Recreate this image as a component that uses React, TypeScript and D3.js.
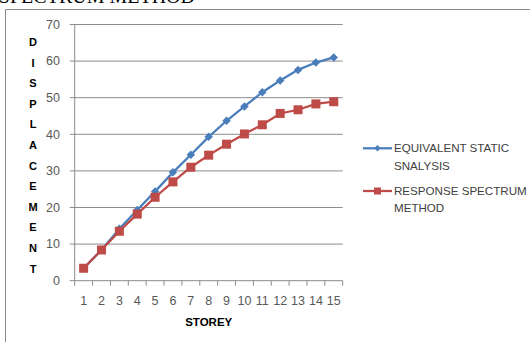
import React from "react";
import * as d3 from "d3";

const storeys = ["1","2","3","4","5","6","7","8","9","10","11","12","13","14","15"];
const equivalentStatic = [3.4, 8.4, 14.2, 19.3, 24.4, 29.6, 34.4, 39.3, 43.7, 47.6, 51.5, 54.7, 57.6, 59.6, 61.0];
const responseSpectrum = [3.4, 8.4, 13.5, 18.2, 22.8, 27.0, 31.0, 34.3, 37.3, 40.1, 42.6, 45.7, 46.7, 48.3, 48.9];
const yTicks = [0, 10, 20, 30, 40, 50, 60, 70];
const yTitle = "DISPLACEMENT".split("");

const W = 530, H = 342;
const plot = { left: 74.7, right: 342.7, top: 24.5, bottom: 280.7 };
const BLUE = "#4a7ebb";
const RED = "#be4b48";
const GRID = "#8c8c8c";
const FONT = "'Liberation Sans', Arial, sans-serif";

export default function App() {
  const x = d3.scaleBand<string>().domain(storeys).range([plot.left, plot.right]);
  const y = d3.scaleLinear().domain([0, 70]).range([plot.bottom, plot.top]);
  const cx = (s: string) => (x(s) ?? 0) + x.bandwidth() / 2;
  const line = d3.line<number>().x((_, i) => cx(storeys[i])).y(d => y(d));
  const diamond = d3.symbol().type(d3.symbolDiamond2).size(46)();
  const boundaries = storeys.map(s => x(s) ?? 0).concat([plot.right]);

  return (
    <svg width={W} height={H} style={{ position: "absolute", left: 0, top: 0, background: "#fff" }}>
      <text x={195} y={3} textAnchor="end" fontFamily="'Liberation Serif', 'Times New Roman', serif" fontSize={20} fill="#000">
        SPECTRUM METHOD
      </text>
      {/* chart frame */}
      <path d={`M5.5,${H} V9.5 H${W}`} fill="none" stroke="#8a8a8a" strokeWidth={1} />

      {/* gridlines and y ticks */}
      {yTicks.map(t => (
        <g key={t}>
          {t > 0 && <line x1={plot.left} x2={plot.right} y1={y(t)} y2={y(t)} stroke={GRID} strokeWidth={1} />}
          <line x1={plot.left - 5} x2={plot.left} y1={y(t)} y2={y(t)} stroke={GRID} />
          <text x={60} y={y(t)} dy="0.35em" textAnchor="end" fontFamily={FONT} fontSize={12.5} fill="#595959">{t}</text>
        </g>
      ))}
      <line x1={plot.left} x2={plot.left} y1={plot.top} y2={plot.bottom} stroke={GRID} />
      <line x1={plot.left} x2={plot.right} y1={plot.bottom} y2={plot.bottom} stroke={GRID} />
      {boundaries.map((b, i) => (
        <line key={i} x1={b} x2={b} y1={plot.bottom} y2={plot.bottom + 5} stroke={GRID} />
      ))}
      {storeys.map(s => (
        <text key={s} x={cx(s)} y={304.5} textAnchor="middle" fontFamily={FONT} fontSize={12.5} fill="#595959">{s}</text>
      ))}

      {/* axis titles */}
      {yTitle.map((c, i) => (
        <text key={i} x={33} y={46 + i * 20.6} textAnchor="middle" fontFamily={FONT} fontWeight="bold" fontSize={11} fill="#000">{c}</text>
      ))}
      <text x={(plot.left + plot.right) / 2} y={326} textAnchor="middle" fontFamily={FONT} fontWeight="bold" fontSize={11.5} fill="#000">STOREY</text>

      {/* series */}
      <path d={line(equivalentStatic) ?? ""} fill="none" stroke={BLUE} strokeWidth={2.25} />
      {equivalentStatic.map((v, i) => (
        <path key={i} d={diamond ?? ""} transform={`translate(${cx(storeys[i])},${y(v)})`} fill={BLUE} />
      ))}
      <path d={line(responseSpectrum) ?? ""} fill="none" stroke={RED} strokeWidth={2.25} />
      {responseSpectrum.map((v, i) => (
        <rect key={i} x={cx(storeys[i]) - 4.5} y={y(v) - 4.5} width={9} height={9} fill={RED} />
      ))}

      {/* legend */}
      <g fontFamily={FONT} fontSize={11.6} fill="#404040">
        <line x1={363} x2={392} y1={148.3} y2={148.3} stroke={BLUE} strokeWidth={2.25} />
        <path d={d3.symbol().type(d3.symbolDiamond2).size(26)() ?? ""} transform="translate(377.5,148.3)" fill={BLUE} />
        <text x={394} y={148.3} dy="0.35em">EQUIVALENT STATIC</text>
        <text x={394} y={165.5} dy="0.35em">SNALYSIS</text>
        <line x1={363} x2={392} y1={191} y2={191} stroke={RED} strokeWidth={2.25} />
        <rect x={374} y={187.5} width={7} height={7} fill={RED} />
        <text x={394} y={191} dy="0.35em">RESPONSE SPECTRUM</text>
        <text x={394} y={208.2} dy="0.35em">METHOD</text>
      </g>
    </svg>
  );
}
